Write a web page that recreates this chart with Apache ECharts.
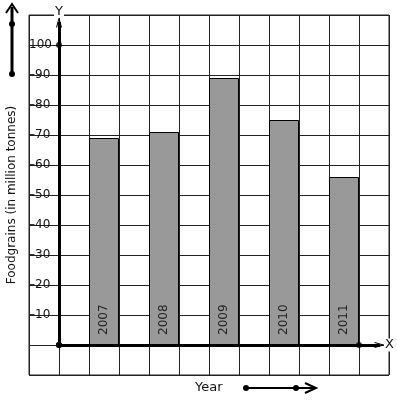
<!DOCTYPE html>
<html>
<head>
<meta charset="utf-8">
<script src="https://cdn.jsdelivr.net/npm/echarts@6/dist/echarts.min.js"></script>
<style>
  html, body { margin: 0; padding: 0; background: #fff; }
  #chart { width: 397px; height: 401px; }
</style>
</head>
<body>
<div id="chart"></div>
<script>
// data
const years = ['2007', '2008', '2009', '2010', '2011'];
const foodgrains = [69, 71, 89, 75, 56];
const tickValues = [10, 20, 30, 40, 50, 60, 70, 80, 90, 100];
const tickLabels = ['–10', '–20', '–30', '–40', '–50', '–60', '–70', '–80', '–90', '100'];

// open chevron arrow head, pointing up in its own box
const chevron = 'path://M0,10L5,0L10,10L8.2,10L5,3.6L1.8,10Z';
const font = 'DejaVu Sans';

const myChart = echarts.init(document.getElementById('chart'));

// each year sits in every second grid column, right of the Y axis
const barData = years.map((y, i) => [1.5 + 2 * i, foodgrains[i]]);

myChart.setOption({
  animation: false,
  grid: {
    left: 29,
    top: 15,
    width: 360,
    height: 360,
    outerBoundsMode: 'none',
    containLabel: false,
    show: true,
    borderColor: '#222',
    borderWidth: 1
  },
  xAxis: {
    type: 'value',
    min: -1,
    max: 11,
    interval: 1,
    axisLine: { show: false },
    axisTick: { show: false },
    axisLabel: { show: false },
    splitLine: { lineStyle: { color: '#222', width: 1 } }
  },
  yAxis: {
    type: 'value',
    min: -10,
    max: 110,
    interval: 10,
    name: 'Foodgrains (in million tonnes)',
    nameLocation: 'middle',
    nameGap: 10,
    nameTextStyle: { fontFamily: font, fontSize: 12, color: '#111' },
    axisLine: { show: false },
    axisTick: { show: false },
    axisLabel: {
      inside: true,
      margin: 0,
      fontFamily: font,
      fontSize: 12,
      color: '#111',
      formatter: v => {
        const k = tickValues.indexOf(v);
        return k < 0 ? '' : tickLabels[k];
      }
    },
    splitLine: { lineStyle: { color: '#222', width: 1 } }
  },
  series: [
    {
      type: 'bar',
      data: barData,
      barWidth: 30,
      itemStyle: { color: '#999999', borderColor: '#000', borderWidth: 1 },
      label: {
        show: true,
        position: 'insideBottom',
        distance: 10,
        rotate: 90,
        align: 'left',
        verticalAlign: 'middle',
        fontFamily: font,
        fontSize: 12,
        color: '#222',
        formatter: p => years[p.dataIndex]
      },
      markLine: {
        silent: true,
        symbol: ['circle', chevron],
        symbolSize: [6, 11],
        lineStyle: { color: '#000', width: 3, type: 'solid' },
        label: {
          show: true,
          position: 'end',
          fontFamily: font,
          fontSize: 13,
          color: '#111',
          backgroundColor: '#fff',
          padding: [0, 1]
        },
        data: [
          [{ coord: [0, 0] }, { coord: [0, 107.7], label: { formatter: 'Y', distance: 4 } }],
          [{ coord: [0, 0] }, { coord: [10.7, 0], label: { formatter: 'X', distance: 4 } }]
        ]
      }
    },
    {
      type: 'scatter',
      data: [[0, 100], [10, 0]],
      symbolSize: 6,
      itemStyle: { color: '#000' },
      silent: true
    }
  ],
  graphic: [
    // decorative arrow on the far left
    { type: 'line', shape: { x1: 12, y1: 74, x2: 12, y2: 7 }, style: { stroke: '#000', lineWidth: 3 } },
    { type: 'polyline', shape: { points: [[6, 13], [12, 4], [18, 13]] }, style: { stroke: '#000', lineWidth: 2, fill: null } },
    { type: 'circle', shape: { cx: 12, cy: 24, r: 3 }, style: { fill: '#000' } },
    { type: 'circle', shape: { cx: 12, cy: 74, r: 3 }, style: { fill: '#000' } },
    // Year label with arrow under the chart
    { type: 'text', left: 195, top: 381, style: { text: 'Year', fontFamily: font, fontSize: 13, fill: '#111' } },
    { type: 'line', shape: { x1: 246, y1: 388, x2: 314, y2: 388 }, style: { stroke: '#000', lineWidth: 2 } },
    { type: 'polyline', shape: { points: [[305, 383], [316, 388], [305, 393]] }, style: { stroke: '#000', lineWidth: 2, fill: null } },
    { type: 'circle', shape: { cx: 246, cy: 388, r: 3 }, style: { fill: '#000' } },
    { type: 'circle', shape: { cx: 296, cy: 388, r: 3 }, style: { fill: '#000' } }
  ]
});
</script>
</body>
</html>
